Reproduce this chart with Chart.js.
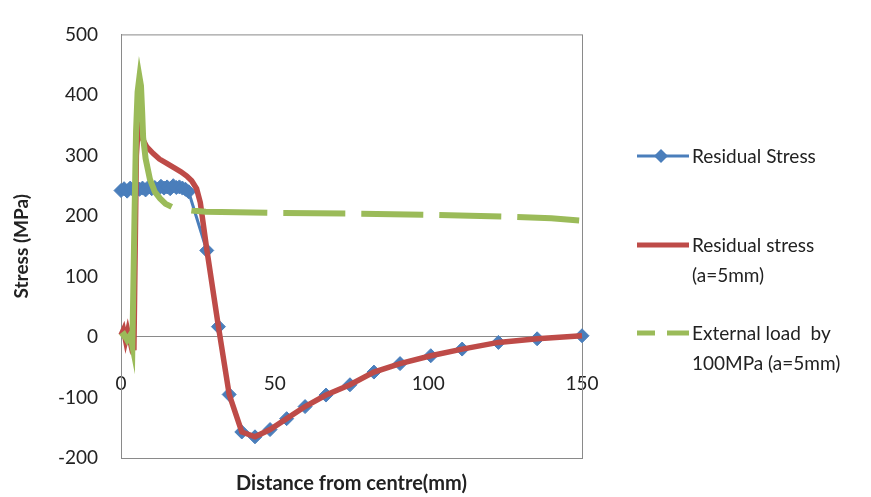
<!DOCTYPE html>
<html>
<head>
<meta charset="utf-8">
<script src="https://cdn.jsdelivr.net/npm/chart.js@4.4.1/dist/chart.umd.min.js"></script>
<style>
  html, body { margin: 0; padding: 0; background: #ffffff; }
  #wrap { position: relative; width: 871px; height: 497px; overflow: hidden; }
  #chart { position: absolute; left: 0; top: 0; }
  .lg { position: absolute; font-family: Lato, "DejaVu Sans", sans-serif; font-size: 19px; color: #222; line-height: 30px; white-space: nowrap; }
  .sw { position: absolute; }
</style>
</head>
<body>
<div id="wrap">
  <canvas id="chart" width="871" height="497"></canvas>

  <svg class="sw" style="left:636px;top:146px" width="56" height="20">
    <line x1="1" y1="10" x2="53" y2="10" stroke="#4a7ebb" stroke-width="3"/>
    <polygon points="25,3 32,10 25,17 18,10" fill="#4a7ebb"/>
  </svg>
  <div class="lg" style="left:692px;top:141px">Residual Stress</div>

  <svg class="sw" style="left:636px;top:235px" width="56" height="20">
    <line x1="1" y1="10" x2="53" y2="10" stroke="#be4b48" stroke-width="5"/>
  </svg>
  <div class="lg" style="left:692px;top:230px">Residual stress<br>(a=5mm)</div>

  <svg class="sw" style="left:636px;top:323px" width="56" height="20">
    <line x1="1" y1="10" x2="19" y2="10" stroke="#9bbb59" stroke-width="5"/>
    <line x1="31" y1="10" x2="53" y2="10" stroke="#9bbb59" stroke-width="5"/>
  </svg>
  <div class="lg" style="left:692px;top:318px">External load&nbsp; by<br>100MPa (a=5mm)</div>
</div>

<script>
// ---- data ----
const residualX = [0,1,2,3,4,5,6,7,8,9,10,11,12,13,14,15,16,17,18,19,20,21,22,
  27.9,31.7,35.2,39.3,43.6,48.5,53.9,59.9,66.7,74.5,82.3,90.8,100.8,111,122.8,135.4,150];
const residualY = [242,245,241,246,243,247,244,246,243,248,245,247,244,249,246,248,245,250,247,248,246,244,240,
  143,17,-95,-157,-165,-153,-135,-115,-96,-79,-58,-44,-31,-20,-9,-3,2];

const residual5X = [0,0.8,1.5,2.2,3,3.5,4.2,5.0,5.6,6.5,8.4,10.5,12.5,14.9,17.5,19.5,21.4,23,24.6,25.8,
  27.9,31.7,35.2,39.3,43.6,48.5,53.9,59.9,66.7,74.5,82.3,90.8,100.8,111,122.8,135.4,150];
const residual5Y = [3,12,-6,10,-8,5,-22,300,348,332,314,303,294,287,279,273,266,258,245,222,
  145,17,-95,-157,-165,-153,-135,-115,-96,-79,-58,-44,-31,-20,-9,-3,2];

const externalX = [0,1,2,3,3.7,4.4,4.9,5.4,6.0,6.5,6.9,7.2,8.0,9.4,11,12.7,14.5,16.5,20,23,27.6,50,75,100,125,140,150];
const externalY = [0,4,-5,3,-15,200,340,405,430,415,370,330,295,261,240,229,220,215,211,209,207,205,204,202,199,196,192];

const seriesNames = ['Residual Stress', 'Residual stress (a=5mm)', 'External load by 100MPa (a=5mm)'];
const xTitle = 'Distance from centre(mm)';
const yTitle = 'Stress (MPa)';

// ---- styles ----
const BLUE = '#4a7ebb', RED = '#be4b48', GREEN = '#9bbb59', AXIS = '#8a8a8a', TXT = '#222222';
const FAM = 'Lato, "DejaVu Sans", sans-serif';
const DASH = [0,20,76,16,62,16,62,16,62,16,62,16,62,16];

const pts = (xs, ys) => xs.map((x, i) => ({ x: x, y: ys[i] }));

const boxPlugin = {
  id: 'plotBox',
  beforeDatasetsDraw(chart) {
    const { ctx, chartArea: a } = chart;
    ctx.save();
    ctx.strokeStyle = AXIS;
    ctx.lineWidth = 1;
    ctx.strokeRect(a.left + 0.5, a.top + 0.5, a.right - a.left, a.bottom - a.top);
    ctx.restore();
  }
};

new Chart(document.getElementById('chart'), {
  type: 'line',
  data: {
    datasets: [
      {
        label: seriesNames[0], data: pts(residualX, residualY),
        borderColor: BLUE, backgroundColor: BLUE, borderWidth: 3,
        pointStyle: 'rectRot', pointRadius: 7, pointBackgroundColor: BLUE, pointBorderColor: BLUE, pointBorderWidth: 1,
        tension: 0, order: 3, clip: false
      },
      {
        label: seriesNames[1], data: pts(residual5X, residual5Y),
        borderColor: RED, backgroundColor: RED, borderWidth: 5.5, pointRadius: 0,
        tension: 0, order: 2, clip: false
      },
      {
        label: seriesNames[2], data: pts(externalX, externalY),
        borderColor: GREEN, backgroundColor: GREEN, borderWidth: 6, pointRadius: 0,
        tension: 0, order: 1, clip: false,
        segment: { borderDash: ctx => (ctx.p0.parsed.x >= 16.5 ? DASH : undefined) }
      }
    ]
  },
  options: {
    responsive: false,
    animation: false,
    devicePixelRatio: 1,
    layout: { padding: { left: 0, top: 20, right: 289, bottom: 0 } },
    plugins: { legend: { display: false }, tooltip: { enabled: false } },
    scales: {
      x: {
        type: 'linear', min: 0, max: 150, position: { y: 0 },
        ticks: { stepSize: 50, padding: 36, color: TXT, font: { family: FAM, size: 19 } },
        grid: { display: false, drawTicks: false },
        border: { display: true, color: AXIS, width: 1 },
        afterFit(s) { s.height = 0; }
      },
      x2: {
        type: 'linear', min: 0, max: 150, position: 'bottom',
        ticks: { display: false },
        grid: { display: false, drawTicks: false },
        border: { display: false },
        title: { display: true, text: xTitle, color: TXT, font: { family: FAM, size: 20, weight: 'bold' }, padding: { top: 14, bottom: 1 } }
      },
      y: {
        type: 'linear', min: -200, max: 500, position: 'left',
        ticks: { stepSize: 100, padding: 23, color: TXT, font: { family: FAM, size: 19 } },
        grid: { display: false, drawTicks: false },
        border: { display: true, color: AXIS, width: 1 },
        title: { display: true, text: yTitle, color: TXT, font: { family: FAM, size: 19, weight: 'bold' }, padding: { top: 10, bottom: 0 } },
        afterFit(s) { s.width = 121; }
      }
    }
  },
  plugins: [boxPlugin]
});
</script>
</body>
</html>
